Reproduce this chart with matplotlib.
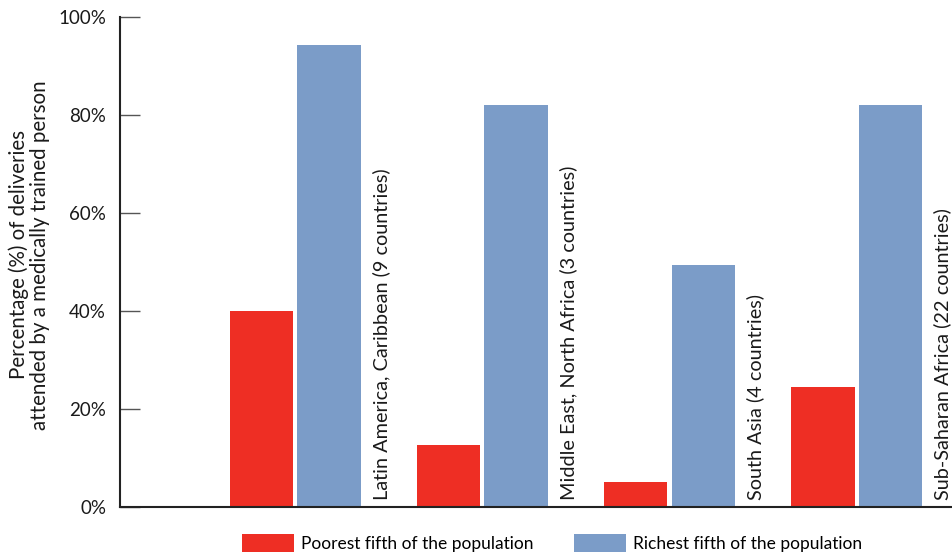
import numpy as np
import matplotlib.pyplot as plt
from matplotlib.patches import Patch

regions = ["Latin America, Caribbean (9 countries)",
           "Middle East, North Africa (3 countries)",
           "South Asia (4 countries)",
           "Sub-Saharan Africa (22 countries)"]
poorest = [40.0, 12.7, 5.1, 24.5]
richest = [94.3, 82.0, 49.3, 82.0]
yticks = [0, 20, 40, 60, 80, 100]
ytick_labels = ["0%", "20%", "40%", "60%", "80%", "100%"]

red = "#ee2e24"
blue = "#7b9cc8"

plt.rcParams['font.family'] = ['Lato', 'DejaVu Sans']

fig = plt.figure(figsize=(9.52, 5.54), dpi=100)
ax = fig.add_axes([0.126, 0.085, 0.874, 0.884])

x = np.arange(len(regions))
w = 0.338
ax.bar(x, poorest, width=w, color=red)
ax.bar(x + 0.36, richest, width=w, color=blue)

# region names stand upright beside each pair
for xi, name in zip(x, regions):
    ax.text(xi + 0.64, 1.5, name, rotation=90, ha='center', va='bottom',
            fontsize=14.3, color='#1a1a1a')

ax.set_xlim(-0.757, 3.69)
ax.set_ylim(0, 100)
ax.set_yticks(yticks)
ax.set_yticklabels(ytick_labels)
ax.set_xticks([])
ax.tick_params(axis='y', direction='in', length=14.5, width=1, color='#555555',
               labelsize=13.5, labelcolor='#1a1a1a', pad=10)

ax.spines['top'].set_visible(False)
ax.spines['right'].set_visible(False)
for s in ['left', 'bottom']:
    ax.spines[s].set_color('#222222')
    ax.spines[s].set_linewidth(1.5)

fig.text(0.031, 0.54, "Percentage (%) of deliveries\nattended by a medically trained person",
         rotation=90, ha='center', va='center', fontsize=14.8, color='#1a1a1a',
         linespacing=1.05)

handles = [Patch(facecolor=red), Patch(facecolor=blue)]
fig.legend(handles, ["Poorest fifth of the population", "Richest fifth of the population"],
           loc='center', bbox_to_anchor=(0.58, 0.0195), ncol=2, frameon=False,
           fontsize=12.5, handlelength=3.0, handleheight=1.25, handletextpad=0.4,
           columnspacing=2.3)

fig.savefig("out.png", dpi=100)
